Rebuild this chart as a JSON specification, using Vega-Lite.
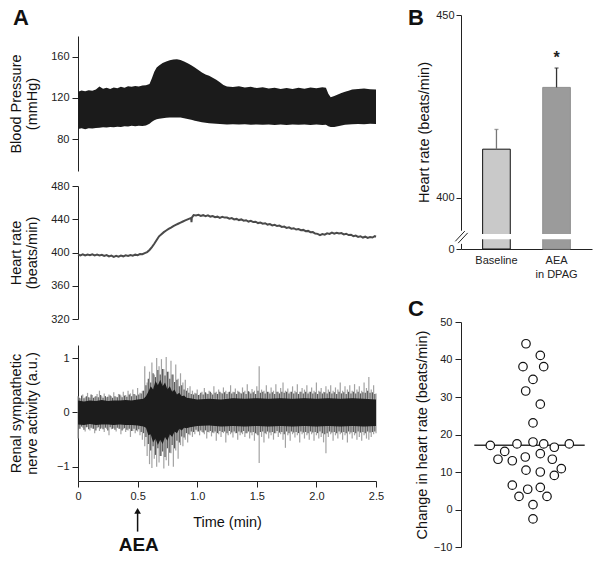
{
  "$schema": "https://vega.github.io/schema/vega-lite/v6.json",
  "background": "white",
  "padding": {"left": 8, "top": 6, "right": 2, "bottom": 2},
  "spacing": 24,
  "config": {
    "view": {"stroke": null},
    "font": "Liberation Sans",
    "axis": {"grid": false, "domainColor": "#222", "tickColor": "#222", "labelColor": "#222", "labelFontSize": 11, "titleFontSize": 14.5, "titleFontWeight": "normal", "titleColor": "#111", "tickSize": 6, "labelPadding": 3, "titleLineHeight": 16, "labelFont": "Liberation Sans", "titleFont": "Liberation Sans", "labelOverlap": false},
    "title": {"fontSize": 22, "fontWeight": "bold", "anchor": "start", "frame": "group", "color": "#111", "offset": 0, "baseline": "alphabetic", "font": "Liberation Sans"}
  },
  "datasets": {
    "bp": [
      {"t":0.00,"sys":126.0,"dia":90.0},{"t":0.03,"sys":127.2,"dia":90.6},{"t":0.06,"sys":126.4,"dia":89.8},{"t":0.09,"sys":127.5,"dia":90.8},{"t":0.12,"sys":127.0,"dia":90.4},{"t":0.15,"sys":128.2,"dia":91.0},{"t":0.18,"sys":131.0,"dia":91.2},{"t":0.21,"sys":129.0,"dia":91.6},{"t":0.24,"sys":129.8,"dia":91.4},{"t":0.27,"sys":128.8,"dia":92.0},{"t":0.30,"sys":130.2,"dia":91.6},{"t":0.33,"sys":129.4,"dia":92.2},{"t":0.36,"sys":130.8,"dia":92.0},{"t":0.39,"sys":130.0,"dia":92.6},{"t":0.42,"sys":131.4,"dia":92.4},{"t":0.45,"sys":130.8,"dia":93.0},{"t":0.48,"sys":131.6,"dia":92.6},{"t":0.51,"sys":131.2,"dia":93.0},{"t":0.54,"sys":132.0,"dia":92.8},{"t":0.57,"sys":132.4,"dia":93.4},{"t":0.60,"sys":133.6,"dia":95.0},{"t":0.62,"sys":139.0,"dia":97.0},{"t":0.64,"sys":145.5,"dia":98.4},{"t":0.66,"sys":149.5,"dia":99.4},{"t":0.68,"sys":151.5,"dia":100.0},{"t":0.71,"sys":153.8,"dia":100.4},{"t":0.74,"sys":155.4,"dia":100.8},{"t":0.77,"sys":156.6,"dia":101.0},{"t":0.80,"sys":157.2,"dia":101.2},{"t":0.83,"sys":157.4,"dia":101.2},{"t":0.86,"sys":156.8,"dia":101.0},{"t":0.89,"sys":155.2,"dia":100.4},{"t":0.92,"sys":153.6,"dia":99.6},{"t":0.95,"sys":151.6,"dia":98.8},{"t":0.98,"sys":149.4,"dia":98.0},{"t":1.01,"sys":147.0,"dia":97.2},{"t":1.04,"sys":144.6,"dia":96.6},{"t":1.07,"sys":142.8,"dia":96.0},{"t":1.10,"sys":141.6,"dia":95.6},{"t":1.13,"sys":139.6,"dia":95.2},{"t":1.16,"sys":137.6,"dia":95.0},{"t":1.19,"sys":135.2,"dia":94.8},{"t":1.22,"sys":132.6,"dia":94.6},{"t":1.25,"sys":131.0,"dia":94.4},{"t":1.30,"sys":130.6,"dia":94.6},{"t":1.35,"sys":131.4,"dia":94.2},{"t":1.40,"sys":130.2,"dia":94.6},{"t":1.45,"sys":130.8,"dia":94.0},{"t":1.50,"sys":129.6,"dia":94.4},{"t":1.55,"sys":130.4,"dia":94.0},{"t":1.60,"sys":129.2,"dia":94.2},{"t":1.65,"sys":130.0,"dia":93.8},{"t":1.70,"sys":128.6,"dia":94.2},{"t":1.75,"sys":129.6,"dia":93.8},{"t":1.80,"sys":128.8,"dia":94.2},{"t":1.85,"sys":130.0,"dia":94.0},{"t":1.90,"sys":129.0,"dia":94.2},{"t":1.95,"sys":130.2,"dia":93.8},{"t":2.00,"sys":129.4,"dia":94.2},{"t":2.05,"sys":130.4,"dia":93.8},{"t":2.08,"sys":130.0,"dia":94.0},{"t":2.10,"sys":124.0,"dia":92.6},{"t":2.12,"sys":120.8,"dia":92.0},{"t":2.15,"sys":122.0,"dia":91.8},{"t":2.18,"sys":123.4,"dia":92.6},{"t":2.21,"sys":124.8,"dia":93.4},{"t":2.24,"sys":126.0,"dia":94.0},{"t":2.27,"sys":127.0,"dia":94.2},{"t":2.30,"sys":128.2,"dia":94.6},{"t":2.35,"sys":128.6,"dia":94.8},{"t":2.40,"sys":129.2,"dia":94.6},{"t":2.45,"sys":128.4,"dia":95.0},{"t":2.50,"sys":128.2,"dia":94.8}
    ],
    "hr": [
      {"t":0.00,"hr":397.6},{"t":0.02,"hr":396.6},{"t":0.04,"hr":397.8},{"t":0.06,"hr":396.4},{"t":0.08,"hr":397.5},{"t":0.10,"hr":396.7},{"t":0.12,"hr":397.9},{"t":0.14,"hr":396.5},{"t":0.16,"hr":397.4},{"t":0.18,"hr":396.5},{"t":0.20,"hr":397.3},{"t":0.22,"hr":395.8},{"t":0.24,"hr":396.8},{"t":0.26,"hr":395.2},{"t":0.28,"hr":396.2},{"t":0.30,"hr":394.8},{"t":0.32,"hr":395.9},{"t":0.34,"hr":395.0},{"t":0.36,"hr":396.3},{"t":0.38,"hr":395.4},{"t":0.40,"hr":396.6},{"t":0.42,"hr":395.8},{"t":0.44,"hr":397.0},{"t":0.46,"hr":396.2},{"t":0.48,"hr":397.4},{"t":0.50,"hr":396.8},{"t":0.52,"hr":398.2},{"t":0.54,"hr":397.9},{"t":0.56,"hr":399.3},{"t":0.58,"hr":400.5},{"t":0.60,"hr":403.0},{"t":0.62,"hr":406.5},{"t":0.64,"hr":410.5},{"t":0.66,"hr":415.0},{"t":0.68,"hr":419.5},{"t":0.70,"hr":422.0},{"t":0.72,"hr":424.5},{"t":0.74,"hr":426.5},{"t":0.76,"hr":428.3},{"t":0.78,"hr":430.0},{"t":0.80,"hr":431.8},{"t":0.82,"hr":433.2},{"t":0.84,"hr":434.6},{"t":0.86,"hr":436.0},{"t":0.88,"hr":437.3},{"t":0.90,"hr":438.6},{"t":0.92,"hr":439.8},{"t":0.94,"hr":441.0},{"t":0.950,"hr":441.5},{"t":0.952,"hr":436.5},{"t":0.955,"hr":442.0},{"t":0.97,"hr":445.0},{"t":0.99,"hr":444.6},{"t":1.01,"hr":445.3},{"t":1.03,"hr":444.0},{"t":1.05,"hr":444.9},{"t":1.07,"hr":443.8},{"t":1.09,"hr":444.7},{"t":1.11,"hr":443.2},{"t":1.13,"hr":443.9},{"t":1.15,"hr":442.4},{"t":1.17,"hr":443.1},{"t":1.19,"hr":441.7},{"t":1.21,"hr":442.9},{"t":1.23,"hr":442.0},{"t":1.25,"hr":442.0},{"t":1.27,"hr":440.6},{"t":1.29,"hr":441.4},{"t":1.31,"hr":439.8},{"t":1.33,"hr":440.4},{"t":1.35,"hr":439.0},{"t":1.37,"hr":439.8},{"t":1.39,"hr":438.2},{"t":1.41,"hr":438.8},{"t":1.43,"hr":437.2},{"t":1.45,"hr":438.1},{"t":1.47,"hr":436.6},{"t":1.49,"hr":437.0},{"t":1.51,"hr":435.4},{"t":1.53,"hr":436.1},{"t":1.55,"hr":434.6},{"t":1.57,"hr":435.2},{"t":1.59,"hr":433.6},{"t":1.61,"hr":434.2},{"t":1.63,"hr":432.6},{"t":1.65,"hr":433.3},{"t":1.67,"hr":431.8},{"t":1.69,"hr":432.4},{"t":1.71,"hr":430.8},{"t":1.73,"hr":431.2},{"t":1.75,"hr":429.6},{"t":1.77,"hr":430.2},{"t":1.79,"hr":428.6},{"t":1.81,"hr":429.2},{"t":1.83,"hr":427.6},{"t":1.85,"hr":428.2},{"t":1.87,"hr":426.8},{"t":1.89,"hr":427.2},{"t":1.91,"hr":425.6},{"t":1.93,"hr":426.0},{"t":1.95,"hr":424.4},{"t":1.97,"hr":424.6},{"t":1.99,"hr":422.8},{"t":2.01,"hr":422.4},{"t":2.03,"hr":420.8},{"t":2.05,"hr":422.2},{"t":2.07,"hr":421.4},{"t":2.09,"hr":423.0},{"t":2.11,"hr":422.4},{"t":2.13,"hr":424.0},{"t":2.15,"hr":422.6},{"t":2.17,"hr":423.8},{"t":2.19,"hr":422.8},{"t":2.21,"hr":423.4},{"t":2.23,"hr":421.8},{"t":2.25,"hr":422.6},{"t":2.27,"hr":421.0},{"t":2.29,"hr":421.4},{"t":2.31,"hr":419.6},{"t":2.33,"hr":420.4},{"t":2.35,"hr":418.8},{"t":2.37,"hr":419.6},{"t":2.39,"hr":418.0},{"t":2.41,"hr":419.0},{"t":2.43,"hr":417.6},{"t":2.45,"hr":418.6},{"t":2.47,"hr":418.0},{"t":2.49,"hr":419.6},{"t":2.50,"hr":419.0}
    ],
    "spikes": [
      {"t":0.00,"hi":0.30,"lo":-0.48},{"t":0.02,"hi":0.26,"lo":-0.30},{"t":0.04,"hi":0.33,"lo":-0.28},{"t":0.06,"hi":0.28,"lo":-0.35},{"t":0.08,"hi":0.36,"lo":-0.27},{"t":0.10,"hi":0.27,"lo":-0.33},{"t":0.12,"hi":0.32,"lo":-0.30},{"t":0.14,"hi":0.29,"lo":-0.38},{"t":0.16,"hi":0.34,"lo":-0.29},{"t":0.18,"hi":0.40,"lo":-0.34},{"t":0.20,"hi":0.30,"lo":-0.28},{"t":0.22,"hi":0.35,"lo":-0.36},{"t":0.24,"hi":0.28,"lo":-0.30},{"t":0.26,"hi":0.33,"lo":-0.42},{"t":0.28,"hi":0.30,"lo":-0.31},{"t":0.30,"hi":0.37,"lo":-0.29},{"t":0.32,"hi":0.29,"lo":-0.35},{"t":0.34,"hi":0.34,"lo":-0.30},{"t":0.36,"hi":0.31,"lo":-0.40},{"t":0.38,"hi":0.38,"lo":-0.31},{"t":0.40,"hi":0.32,"lo":-0.36},{"t":0.42,"hi":0.40,"lo":-0.33},{"t":0.44,"hi":0.35,"lo":-0.45},{"t":0.46,"hi":0.42,"lo":-0.34},{"t":0.48,"hi":0.33,"lo":-0.38},{"t":0.50,"hi":0.45,"lo":-0.35},{"t":0.52,"hi":0.36,"lo":-0.42},{"t":0.54,"hi":0.40,"lo":-0.50},{"t":0.56,"hi":0.85,"lo":-0.62},{"t":0.58,"hi":0.55,"lo":-0.80},{"t":0.60,"hi":0.75,"lo":-0.95},{"t":0.62,"hi":0.92,"lo":-1.02},{"t":0.64,"hi":0.70,"lo":-0.85},{"t":0.66,"hi":1.00,"lo":-1.00},{"t":0.68,"hi":0.85,"lo":-0.92},{"t":0.70,"hi":0.98,"lo":-0.80},{"t":0.72,"hi":0.80,"lo":-1.03},{"t":0.74,"hi":1.02,"lo":-0.88},{"t":0.76,"hi":0.75,"lo":-0.98},{"t":0.78,"hi":0.95,"lo":-0.75},{"t":0.80,"hi":0.70,"lo":-1.00},{"t":0.82,"hi":0.88,"lo":-0.70},{"t":0.84,"hi":0.62,"lo":-0.85},{"t":0.86,"hi":0.72,"lo":-0.60},{"t":0.88,"hi":0.55,"lo":-0.62},{"t":0.90,"hi":0.60,"lo":-0.50},{"t":0.92,"hi":0.45,"lo":-0.55},{"t":0.94,"hi":0.48,"lo":-0.42},{"t":0.96,"hi":0.40,"lo":-0.45},{"t":0.98,"hi":0.36,"lo":-0.40},{"t":1.00,"hi":0.42,"lo":-0.35},{"t":1.02,"hi":0.33,"lo":-0.42},{"t":1.04,"hi":0.38,"lo":-0.36},{"t":1.06,"hi":0.45,"lo":-0.40},{"t":1.08,"hi":0.35,"lo":-0.48},{"t":1.10,"hi":0.40,"lo":-0.37},{"t":1.12,"hi":0.36,"lo":-0.44},{"t":1.14,"hi":0.48,"lo":-0.38},{"t":1.16,"hi":0.38,"lo":-0.52},{"t":1.18,"hi":0.42,"lo":-0.40},{"t":1.20,"hi":0.36,"lo":-0.45},{"t":1.22,"hi":0.46,"lo":-0.38},{"t":1.24,"hi":0.40,"lo":-0.55},{"t":1.26,"hi":0.37,"lo":-0.42},{"t":1.28,"hi":0.50,"lo":-0.40},{"t":1.30,"hi":0.38,"lo":-0.46},{"t":1.32,"hi":0.44,"lo":-0.38},{"t":1.34,"hi":0.40,"lo":-0.50},{"t":1.36,"hi":0.36,"lo":-0.42},{"t":1.38,"hi":0.46,"lo":-0.40},{"t":1.40,"hi":0.40,"lo":-0.45},{"t":1.42,"hi":0.52,"lo":-0.38},{"t":1.44,"hi":0.38,"lo":-0.48},{"t":1.46,"hi":0.43,"lo":-0.42},{"t":1.48,"hi":0.40,"lo":-0.52},{"t":1.50,"hi":0.48,"lo":-0.40},{"t":1.52,"hi":0.85,"lo":-0.93},{"t":1.54,"hi":0.42,"lo":-0.45},{"t":1.56,"hi":0.40,"lo":-0.55},{"t":1.58,"hi":0.50,"lo":-0.40},{"t":1.60,"hi":0.38,"lo":-0.48},{"t":1.62,"hi":0.46,"lo":-0.42},{"t":1.64,"hi":0.40,"lo":-0.50},{"t":1.66,"hi":0.52,"lo":-0.38},{"t":1.68,"hi":0.38,"lo":-0.45},{"t":1.70,"hi":0.45,"lo":-0.40},{"t":1.72,"hi":0.55,"lo":-0.50},{"t":1.74,"hi":0.40,"lo":-0.65},{"t":1.76,"hi":0.44,"lo":-0.42},{"t":1.78,"hi":0.38,"lo":-0.52},{"t":1.80,"hi":0.48,"lo":-0.40},{"t":1.82,"hi":0.40,"lo":-0.46},{"t":1.84,"hi":0.52,"lo":-0.42},{"t":1.86,"hi":0.38,"lo":-0.55},{"t":1.88,"hi":0.45,"lo":-0.40},{"t":1.90,"hi":0.42,"lo":-0.48},{"t":1.92,"hi":0.50,"lo":-0.42},{"t":1.94,"hi":0.38,"lo":-0.50},{"t":1.96,"hi":0.46,"lo":-0.40},{"t":1.98,"hi":0.40,"lo":-0.52},{"t":2.00,"hi":0.55,"lo":-0.42},{"t":2.02,"hi":0.40,"lo":-0.48},{"t":2.04,"hi":0.45,"lo":-0.45},{"t":2.06,"hi":0.38,"lo":-0.55},{"t":2.08,"hi":0.48,"lo":-0.75},{"t":2.10,"hi":0.42,"lo":-0.45},{"t":2.12,"hi":0.50,"lo":-0.40},{"t":2.14,"hi":0.40,"lo":-0.52},{"t":2.16,"hi":0.46,"lo":-0.42},{"t":2.18,"hi":0.42,"lo":-0.48},{"t":2.20,"hi":0.55,"lo":-0.40},{"t":2.22,"hi":0.40,"lo":-0.50},{"t":2.24,"hi":0.48,"lo":-0.42},{"t":2.26,"hi":0.42,"lo":-0.55},{"t":2.28,"hi":0.50,"lo":-0.40},{"t":2.30,"hi":0.40,"lo":-0.48},{"t":2.32,"hi":0.52,"lo":-0.42},{"t":2.34,"hi":0.42,"lo":-0.50},{"t":2.36,"hi":0.48,"lo":-0.45},{"t":2.38,"hi":0.40,"lo":-0.52},{"t":2.40,"hi":0.55,"lo":-0.42},{"t":2.42,"hi":0.45,"lo":-0.48},{"t":2.44,"hi":0.65,"lo":-0.50},{"t":2.46,"hi":0.42,"lo":-0.45},{"t":2.48,"hi":0.50,"lo":-0.40},{"t":2.50,"hi":0.35,"lo":-0.38}
    ],
    "spikes2": [
      {"t":0.01,"hi":0.27,"lo":-0.30},{"t":0.03,"hi":0.31,"lo":-0.26},{"t":0.05,"hi":0.26,"lo":-0.32},{"t":0.07,"hi":0.30,"lo":-0.27},{"t":0.09,"hi":0.28,"lo":-0.31},{"t":0.11,"hi":0.33,"lo":-0.28},{"t":0.13,"hi":0.27,"lo":-0.30},{"t":0.15,"hi":0.30,"lo":-0.33},{"t":0.17,"hi":0.28,"lo":-0.27},{"t":0.19,"hi":0.32,"lo":-0.30},{"t":0.21,"hi":0.27,"lo":-0.31},{"t":0.23,"hi":0.30,"lo":-0.28},{"t":0.25,"hi":0.29,"lo":-0.33},{"t":0.27,"hi":0.31,"lo":-0.27},{"t":0.29,"hi":0.27,"lo":-0.30},{"t":0.31,"hi":0.30,"lo":-0.32},{"t":0.33,"hi":0.28,"lo":-0.28},{"t":0.35,"hi":0.33,"lo":-0.30},{"t":0.37,"hi":0.28,"lo":-0.33},{"t":0.39,"hi":0.31,"lo":-0.29},{"t":0.41,"hi":0.29,"lo":-0.32},{"t":0.43,"hi":0.33,"lo":-0.30},{"t":0.45,"hi":0.30,"lo":-0.34},{"t":0.47,"hi":0.34,"lo":-0.30},{"t":0.49,"hi":0.31,"lo":-0.33},{"t":0.51,"hi":0.33,"lo":-0.31},{"t":0.53,"hi":0.35,"lo":-0.36},{"t":0.55,"hi":0.40,"lo":-0.38},{"t":0.57,"hi":0.50,"lo":-0.45},{"t":0.59,"hi":0.62,"lo":-0.58},{"t":0.61,"hi":0.55,"lo":-0.70},{"t":0.63,"hi":0.72,"lo":-0.62},{"t":0.65,"hi":0.65,"lo":-0.78},{"t":0.67,"hi":0.78,"lo":-0.66},{"t":0.69,"hi":0.70,"lo":-0.80},{"t":0.71,"hi":0.80,"lo":-0.72},{"t":0.73,"hi":0.68,"lo":-0.82},{"t":0.75,"hi":0.75,"lo":-0.66},{"t":0.77,"hi":0.62,"lo":-0.74},{"t":0.79,"hi":0.70,"lo":-0.60},{"t":0.81,"hi":0.56,"lo":-0.66},{"t":0.83,"hi":0.60,"lo":-0.52},{"t":0.85,"hi":0.48,"lo":-0.55},{"t":0.87,"hi":0.50,"lo":-0.44},{"t":0.89,"hi":0.42,"lo":-0.46},{"t":0.91,"hi":0.40,"lo":-0.38},{"t":0.93,"hi":0.36,"lo":-0.40},{"t":0.95,"hi":0.34,"lo":-0.35},{"t":0.97,"hi":0.33,"lo":-0.36},{"t":0.99,"hi":0.35,"lo":-0.32},{"t":1.01,"hi":0.32,"lo":-0.35},{"t":1.03,"hi":0.36,"lo":-0.33},{"t":1.05,"hi":0.33,"lo":-0.37},{"t":1.07,"hi":0.37,"lo":-0.33},{"t":1.09,"hi":0.34,"lo":-0.36},{"t":1.11,"hi":0.38,"lo":-0.34},{"t":1.13,"hi":0.33,"lo":-0.37},{"t":1.15,"hi":0.36,"lo":-0.35},{"t":1.17,"hi":0.34,"lo":-0.38},{"t":1.19,"hi":0.38,"lo":-0.34},{"t":1.21,"hi":0.35,"lo":-0.36},{"t":1.23,"hi":0.37,"lo":-0.35},{"t":1.25,"hi":0.34,"lo":-0.38},{"t":1.27,"hi":0.38,"lo":-0.34},{"t":1.29,"hi":0.35,"lo":-0.37},{"t":1.31,"hi":0.37,"lo":-0.35},{"t":1.33,"hi":0.34,"lo":-0.38},{"t":1.35,"hi":0.38,"lo":-0.35},{"t":1.37,"hi":0.35,"lo":-0.37},{"t":1.39,"hi":0.37,"lo":-0.34},{"t":1.41,"hi":0.34,"lo":-0.38},{"t":1.43,"hi":0.39,"lo":-0.35},{"t":1.45,"hi":0.35,"lo":-0.37},{"t":1.47,"hi":0.37,"lo":-0.36},{"t":1.49,"hi":0.34,"lo":-0.38},{"t":1.51,"hi":0.40,"lo":-0.42},{"t":1.53,"hi":0.36,"lo":-0.36},{"t":1.55,"hi":0.38,"lo":-0.35},{"t":1.57,"hi":0.35,"lo":-0.38},{"t":1.59,"hi":0.38,"lo":-0.35},{"t":1.61,"hi":0.35,"lo":-0.37},{"t":1.63,"hi":0.37,"lo":-0.36},{"t":1.65,"hi":0.34,"lo":-0.38},{"t":1.67,"hi":0.38,"lo":-0.34},{"t":1.69,"hi":0.35,"lo":-0.37},{"t":1.71,"hi":0.38,"lo":-0.36},{"t":1.73,"hi":0.36,"lo":-0.40},{"t":1.75,"hi":0.38,"lo":-0.35},{"t":1.77,"hi":0.35,"lo":-0.38},{"t":1.79,"hi":0.38,"lo":-0.35},{"t":1.81,"hi":0.35,"lo":-0.37},{"t":1.83,"hi":0.37,"lo":-0.36},{"t":1.85,"hi":0.34,"lo":-0.38},{"t":1.87,"hi":0.38,"lo":-0.35},{"t":1.89,"hi":0.35,"lo":-0.37},{"t":1.91,"hi":0.38,"lo":-0.36},{"t":1.93,"hi":0.35,"lo":-0.38},{"t":1.95,"hi":0.38,"lo":-0.35},{"t":1.97,"hi":0.35,"lo":-0.37},{"t":1.99,"hi":0.37,"lo":-0.36},{"t":2.01,"hi":0.34,"lo":-0.38},{"t":2.03,"hi":0.38,"lo":-0.35},{"t":2.05,"hi":0.35,"lo":-0.38},{"t":2.07,"hi":0.37,"lo":-0.40},{"t":2.09,"hi":0.35,"lo":-0.38},{"t":2.11,"hi":0.38,"lo":-0.35},{"t":2.13,"hi":0.35,"lo":-0.37},{"t":2.15,"hi":0.37,"lo":-0.36},{"t":2.17,"hi":0.34,"lo":-0.38},{"t":2.19,"hi":0.38,"lo":-0.35},{"t":2.21,"hi":0.35,"lo":-0.37},{"t":2.23,"hi":0.37,"lo":-0.36},{"t":2.25,"hi":0.34,"lo":-0.38},{"t":2.27,"hi":0.38,"lo":-0.35},{"t":2.29,"hi":0.35,"lo":-0.37},{"t":2.31,"hi":0.38,"lo":-0.36},{"t":2.33,"hi":0.35,"lo":-0.38},{"t":2.35,"hi":0.38,"lo":-0.35},{"t":2.37,"hi":0.35,"lo":-0.37},{"t":2.39,"hi":0.37,"lo":-0.36},{"t":2.41,"hi":0.36,"lo":-0.38},{"t":2.43,"hi":0.40,"lo":-0.35},{"t":2.45,"hi":0.36,"lo":-0.37},{"t":2.47,"hi":0.37,"lo":-0.36},{"t":2.49,"hi":0.34,"lo":-0.35}
    ],
    "core": [
      {"t":0.00,"hi":0.22,"lo":-0.22},{"t":0.05,"hi":0.20,"lo":-0.23},{"t":0.10,"hi":0.22,"lo":-0.21},{"t":0.15,"hi":0.21,"lo":-0.23},{"t":0.20,"hi":0.23,"lo":-0.22},{"t":0.25,"hi":0.21,"lo":-0.22},{"t":0.30,"hi":0.22,"lo":-0.23},{"t":0.35,"hi":0.22,"lo":-0.22},{"t":0.40,"hi":0.23,"lo":-0.23},{"t":0.45,"hi":0.22,"lo":-0.23},{"t":0.50,"hi":0.24,"lo":-0.24},{"t":0.55,"hi":0.25,"lo":-0.26},{"t":0.57,"hi":0.30,"lo":-0.28},{"t":0.59,"hi":0.38,"lo":-0.42},{"t":0.61,"hi":0.48,"lo":-0.40},{"t":0.63,"hi":0.42,"lo":-0.55},{"t":0.65,"hi":0.58,"lo":-0.48},{"t":0.67,"hi":0.50,"lo":-0.60},{"t":0.69,"hi":0.60,"lo":-0.50},{"t":0.71,"hi":0.48,"lo":-0.58},{"t":0.73,"hi":0.55,"lo":-0.45},{"t":0.75,"hi":0.42,"lo":-0.52},{"t":0.77,"hi":0.48,"lo":-0.40},{"t":0.79,"hi":0.38,"lo":-0.45},{"t":0.81,"hi":0.42,"lo":-0.35},{"t":0.83,"hi":0.33,"lo":-0.38},{"t":0.85,"hi":0.36,"lo":-0.30},{"t":0.87,"hi":0.30,"lo":-0.33},{"t":0.89,"hi":0.31,"lo":-0.28},{"t":0.91,"hi":0.27,"lo":-0.29},{"t":0.94,"hi":0.26,"lo":-0.27},{"t":1.00,"hi":0.24,"lo":-0.25},{"t":1.10,"hi":0.25,"lo":-0.24},{"t":1.20,"hi":0.24,"lo":-0.26},{"t":1.30,"hi":0.26,"lo":-0.25},{"t":1.40,"hi":0.25,"lo":-0.26},{"t":1.50,"hi":0.26,"lo":-0.25},{"t":1.60,"hi":0.25,"lo":-0.26},{"t":1.70,"hi":0.26,"lo":-0.25},{"t":1.80,"hi":0.25,"lo":-0.26},{"t":1.90,"hi":0.26,"lo":-0.25},{"t":2.00,"hi":0.25,"lo":-0.26},{"t":2.10,"hi":0.26,"lo":-0.25},{"t":2.20,"hi":0.25,"lo":-0.26},{"t":2.30,"hi":0.26,"lo":-0.25},{"t":2.40,"hi":0.25,"lo":-0.26},{"t":2.50,"hi":0.24,"lo":-0.25}
    ],
    "bars": [
      {"group":"Baseline","mean":413.3,"upper":418.7,"sig":""},
      {"group":"AEA in DPAG","mean":430.2,"upper":435.5,"sig":"*"}
    ],
    "change": [
      {"jitter":-0.7,"change":44.2},{"jitter":0.73,"change":41.1},{"jitter":-1.0,"change":38.1},{"jitter":1.07,"change":38.1},{"jitter":0.0,"change":34.7},{"jitter":-0.73,"change":31.6},{"jitter":0.73,"change":28.1},{"jitter":0.0,"change":23.1},{"jitter":-4.27,"change":17.1},{"jitter":-1.6,"change":17.5},{"jitter":0.0,"change":18.0},{"jitter":1.07,"change":17.5},{"jitter":2.13,"change":16.6},{"jitter":3.63,"change":17.5},{"jitter":-2.83,"change":15.5},{"jitter":-3.5,"change":13.4},{"jitter":-2.07,"change":13.0},{"jitter":-0.77,"change":14.0},{"jitter":0.73,"change":14.9},{"jitter":1.93,"change":13.4},{"jitter":-0.7,"change":10.5},{"jitter":0.73,"change":10.0},{"jitter":2.83,"change":10.9},{"jitter":2.13,"change":9.1},{"jitter":-2.07,"change":6.5},{"jitter":-0.53,"change":5.4},{"jitter":0.73,"change":5.9},{"jitter":-1.4,"change":3.5},{"jitter":1.4,"change":3.5},{"jitter":0.0,"change":1.3},{"jitter":0.0,"change":-2.5}
    ]
  },
  "hconcat": [
    {
      "bounds": "flush",
      "spacing": 5,
      "vconcat": [
        {"width": 298, "height": 16, "data": {"values": []}, "mark": {"type": "point", "opacity": 0}},
        {
          "width": 298, "height": 135,
          "title": {"text": "A", "dx": -65, "dy": -2.4},
          "data": {"name": "bp"},
          "mark": {"type": "area", "color": "#1b1b1b", "interpolate": "linear"},
          "encoding": {
            "x": {"field": "t", "type": "quantitative", "scale": {"domain": [0, 2.5], "nice": false}, "axis": null},
            "y": {"field": "sys", "type": "quantitative", "scale": {"domain": [49.3, 180], "nice": false, "zero": false}, "axis": {"values": [80, 120, 160], "title": ["Blood Pressure", "(mmHg)"], "titlePadding": 11}},
            "y2": {"field": "dia"}
          }
        },
        {"width": 298, "height": 5, "data": {"values": []}, "mark": {"type": "point", "opacity": 0}},
        {
          "width": 298, "height": 133,
          "data": {"name": "hr"},
          "mark": {"type": "line", "color": "#4a4a4a", "strokeWidth": 2},
          "encoding": {
            "x": {"field": "t", "type": "quantitative", "scale": {"domain": [0, 2.5], "nice": false}, "axis": null},
            "y": {"field": "hr", "type": "quantitative", "scale": {"domain": [320, 480], "nice": false, "zero": false}, "axis": {"values": [320, 360, 400, 440, 480], "title": ["Heart rate", "(beats/min)"], "titlePadding": 11}}
          }
        },
        {"width": 298, "height": 16, "data": {"values": []}, "mark": {"type": "point", "opacity": 0}},
        {
          "width": 298, "height": 136,
          "layer": [
            {
              "data": {"name": "spikes"},
              "mark": {"type": "rule", "color": "#a3a3a3", "strokeWidth": 1.2},
              "encoding": {
                "x": {"field": "t", "type": "quantitative", "scale": {"domain": [0, 2.5], "nice": false}, "axis": {"values": [0, 0.5, 1, 1.5, 2, 2.5], "labelExpr": "datum.value == 0 ? '0' : format(datum.value, '.1f')", "title": "Time (min)", "titlePadding": 14, "labelFlush": false}},
                "y": {"field": "lo", "type": "quantitative", "scale": {"domain": [-1.26, 1.24], "nice": false, "zero": false}, "axis": {"values": [-1, 0, 1], "format": "d", "title": ["Renal sympathetic", "nerve activity (a.u.)"], "titlePadding": 17}},
                "y2": {"field": "hi"}
              }
            },
            {
              "data": {"name": "spikes2"},
              "mark": {"type": "rule", "color": "#5a5a5a", "strokeWidth": 1.2},
              "encoding": {
                "x": {"field": "t", "type": "quantitative"},
                "y": {"field": "lo", "type": "quantitative"},
                "y2": {"field": "hi"}
              }
            },
            {
              "data": {"name": "core"},
              "mark": {"type": "area", "color": "#1c1c1c"},
              "encoding": {
                "x": {"field": "t", "type": "quantitative"},
                "y": {"field": "lo", "type": "quantitative"},
                "y2": {"field": "hi"}
              }
            },
            {
              "data": {"values": [{}]},
              "mark": {"type": "rule", "color": "#111", "strokeWidth": 1.5},
              "encoding": {
                "x": {"datum": 0.5, "type": "quantitative"},
                "y": {"datum": -1.8, "type": "quantitative"},
                "y2": {"datum": -2.19}
              }
            },
            {
              "data": {"values": [{}]},
              "mark": {"type": "point", "shape": "triangle-up", "filled": true, "color": "#111", "size": 45, "opacity": 1},
              "encoding": {
                "x": {"datum": 0.5, "type": "quantitative"},
                "y": {"datum": -1.81, "type": "quantitative"}
              }
            },
            {
              "data": {"values": [{"label": "AEA"}]},
              "mark": {"type": "text", "fontSize": 19, "fontWeight": "bold", "baseline": "alphabetic", "align": "center", "color": "#111"},
              "encoding": {
                "x": {"datum": 0.51, "type": "quantitative"},
                "y": {"datum": -2.55, "type": "quantitative"},
                "text": {"field": "label"}
              }
            }
          ]
        }
      ]
    },
    {
      "bounds": "flush",
      "spacing": 73,
      "vconcat": [
        {
          "width": 131, "height": 234,
          "title": {"text": "B", "dx": -53, "dy": 25.3},
          "data": {"name": "bars"},
          "resolve": {"scale": {"x": "independent"}},
          "layer": [
            {
              "layer": [
                {
                  "mark": {"type": "bar", "strokeWidth": 1},
                  "encoding": {
                    "x": {"field": "group", "type": "nominal", "sort": ["Baseline", "AEA in DPAG"], "scale": {"paddingInner": 0.54, "paddingOuter": 0.36}, "axis": {"title": null, "ticks": false, "labelAngle": 0, "labelPadding": 5, "labelExpr": "datum.value == 'Baseline' ? 'Baseline' : ['AEA', 'in DPAG']", "labelLineHeight": 14, "labelBaseline": "top", "labelColor": "#222"}},
                    "y": {"field": "mean", "type": "quantitative", "scale": {"domain": [386, 450], "nice": false, "zero": false}, "axis": {"values": [386, 400, 450], "labelExpr": "datum.value < 390 ? '0' : datum.label", "title": "Heart rate (beats/min)", "tickSize": 5, "labelPadding": 2, "titlePadding": 4}},
                    "y2": {"datum": 386},
                    "fill": {"field": "group", "type": "nominal", "scale": {"domain": ["Baseline", "AEA in DPAG"], "range": ["#c9c9c9", "#9b9b9b"]}, "legend": null},
                    "stroke": {"field": "group", "type": "nominal", "scale": {"domain": ["Baseline", "AEA in DPAG"], "range": ["#111111", "#8f8f8f"]}, "legend": null}
                  }
                },
                {
                  "mark": {"type": "bar", "fill": "white", "stroke": "white", "strokeWidth": 1.5},
                  "encoding": {
                    "x": {"field": "group", "type": "nominal", "sort": ["Baseline", "AEA in DPAG"]},
                    "y": {"datum": 388.9, "type": "quantitative"},
                    "y2": {"datum": 389.9}
                  }
                },
                {
                  "mark": {"type": "rule", "strokeWidth": 1.3},
                  "encoding": {
                    "x": {"field": "group", "type": "nominal", "sort": ["Baseline", "AEA in DPAG"]},
                    "y": {"field": "mean", "type": "quantitative"},
                    "y2": {"field": "upper"},
                    "color": {"field": "group", "type": "nominal", "scale": {"domain": ["Baseline", "AEA in DPAG"], "range": ["#777777", "#333333"]}, "legend": null}
                  }
                },
                {
                  "mark": {"type": "tick", "orient": "horizontal", "size": 4, "thickness": 1.3},
                  "encoding": {
                    "x": {"field": "group", "type": "nominal", "sort": ["Baseline", "AEA in DPAG"]},
                    "y": {"field": "upper", "type": "quantitative"},
                    "color": {"field": "group", "type": "nominal", "legend": null}
                  }
                },
                {
                  "mark": {"type": "text", "dy": -10, "fontSize": 16, "fontWeight": "bold", "baseline": "middle", "color": "#222"},
                  "encoding": {
                    "x": {"field": "group", "type": "nominal", "sort": ["Baseline", "AEA in DPAG"]},
                    "y": {"field": "upper", "type": "quantitative"},
                    "text": {"field": "sig"}
                  }
                }
              ]
            },
            {
              "data": {"values": [{}]},
              "layer": [
                {
                  "mark": {"type": "rect", "fill": "white"},
                  "encoding": {
                    "x": {"datum": -0.05, "type": "quantitative", "scale": {"domain": [0, 2.75], "nice": false, "zero": false}, "axis": null},
                    "x2": {"datum": 0.05},
                    "y": {"datum": 387.4, "type": "quantitative"},
                    "y2": {"datum": 391.0}
                  }
                },
                {
                  "mark": {"type": "rule", "color": "#222", "strokeWidth": 1},
                  "encoding": {
                    "x": {"datum": -0.12, "type": "quantitative"},
                    "x2": {"datum": 0.08},
                    "y": {"datum": 388.1, "type": "quantitative"},
                    "y2": {"datum": 390.9}
                  }
                },
                {
                  "mark": {"type": "rule", "color": "#222", "strokeWidth": 1},
                  "encoding": {
                    "x": {"datum": -0.06, "type": "quantitative"},
                    "x2": {"datum": 0.14},
                    "y": {"datum": 387.6, "type": "quantitative"},
                    "y2": {"datum": 390.4}
                  }
                }
              ]
            }
          ]
        },
        {
          "width": 125, "height": 225,
          "title": {"text": "C", "dx": -53, "dy": 9},
          "data": {"name": "change"},
          "layer": [
            {
              "mark": {"type": "rule", "color": "#333", "strokeWidth": 1.6},
              "encoding": {
                "x": {"datum": -5.87, "type": "quantitative", "scale": {"domain": [-7.2, 5.3], "nice": false, "zero": false}, "axis": null},
                "x2": {"datum": 5.17},
                "y": {"aggregate": "mean", "field": "change", "type": "quantitative", "axis": {"values": [-10, 0, 10, 20, 30, 40, 50], "labelOverlap": false, "title": "Change in heart rate (beats/min)", "titlePadding": 4}}
              }
            },
            {
              "mark": {"type": "point", "shape": "circle", "filled": true, "fill": "white", "stroke": "#111", "strokeWidth": 1.2, "size": 72, "opacity": 1},
              "encoding": {
                "x": {"field": "jitter", "type": "quantitative", "axis": null},
                "y": {"field": "change", "type": "quantitative", "scale": {"domain": [-10, 50], "nice": false, "zero": false}, "axis": {"values": [-10, 0, 10, 20, 30, 40, 50], "labelOverlap": false, "title": "Change in heart rate (beats/min)", "titlePadding": 4}}
              }
            }
          ]
        }
      ]
    }
  ]
}
